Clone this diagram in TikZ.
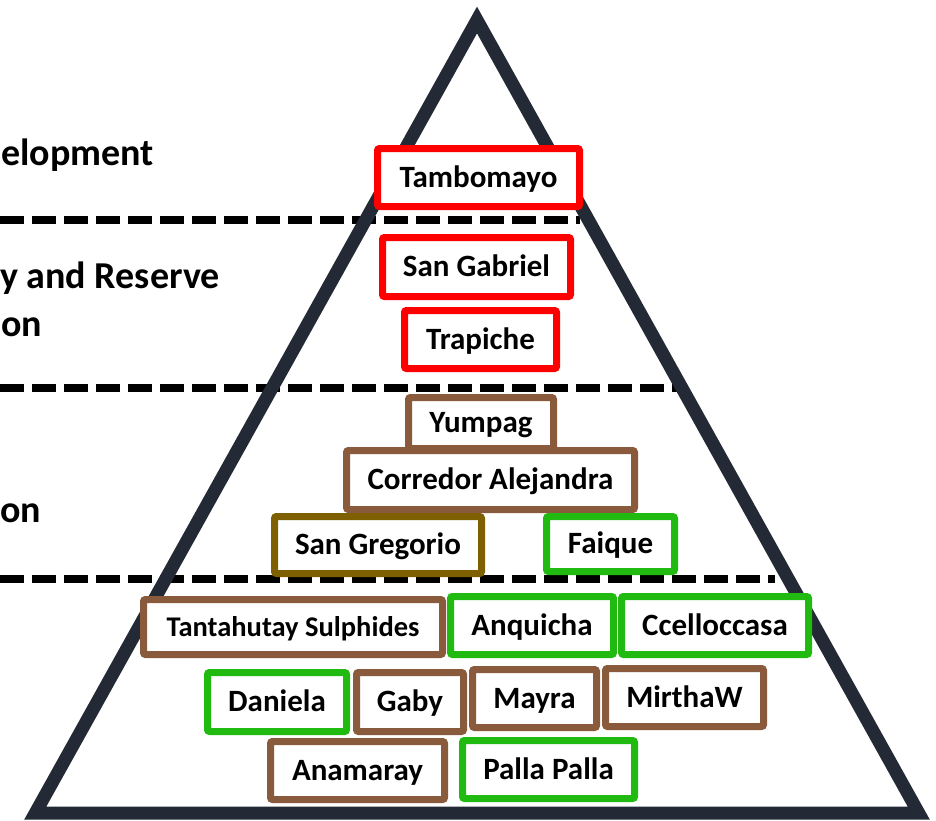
\documentclass[tikz,border=0pt]{standalone}
\usepackage{fontspec}
\setmainfont{Carlito}
\definecolor{tri}{RGB}{35,42,53}
\definecolor{bred}{RGB}{255,0,0}
\definecolor{bbrown}{RGB}{138,90,60}
\definecolor{bolive}{RGB}{127,96,0}
\definecolor{bgreen}{RGB}{32,186,16}
\newcommand\mybox[7]{\node[boxstyle, draw=#2, minimum width={#5-#3-7}, minimum height={#6-#4-7}] (#1) at ({(#3+#5)/2},{(#4+#6)/2}) {#7};}
\tikzset{
  boxstyle/.style={rectangle, line width=7pt, fill=white, rounded corners=2pt, inner sep=0pt, font=\bfseries\fontsize{31}{36}\selectfont, text=black, text height=19.6pt, text depth=0pt},
  sep/.style={line width=8pt, black, dash pattern=on 24pt off 8pt},
  lbl/.style={anchor=base west, inner sep=0pt, font=\bfseries\fontsize{38}{44}\selectfont, text=black}
}
\begin{document}
\begin{tikzpicture}[x=1pt,y=-1pt]
\useasboundingbox (0,0) rectangle (936,820);
\clip (0,0) rectangle (936,820);
% labels
\node[lbl] (l1) at (1,165) {elopment};
\node[lbl] (l2) at (0,288) {y and Reserve};
\node[lbl] (l3) at (1,336) {on};
\node[lbl] (l4) at (0,522) {on};
% separators
\coordinate (d1a) at (0,220); \coordinate (d1b) at (580,220);
\coordinate (d2a) at (0,388); \coordinate (d2b) at (678,388);
\coordinate (d3a) at (0,579); \coordinate (d3b) at (775,579);
\draw[sep] (d1a) -- (d1b);
\draw[sep] (d2a) -- (d2b);
\draw[sep] (d3a) -- (d3b);
% triangle
\coordinate (apex) at (477,20);
\coordinate (br) at (918.7,813);
\coordinate (bl) at (35.3,813);
\draw[tri, line width=13pt, line join=miter] (apex) -- (br) -- (bl) -- cycle;
% boxes
\mybox{tambo}{bred}{374}{145}{583}{210}{Tambomayo}
\mybox{sgab}{bred}{379}{234}{574}{300}{San Gabriel}
\mybox{trap}{bred}{401}{307}{560}{372}{Trapiche}
\mybox{yump}{bbrown}{405}{394}{557}{452}{Yumpag}
\mybox{corr}{bbrown}{343}{447}{638}{513}{Corredor Alejandra}
\mybox{sgre}{bolive}{271}{513}{485}{577}{San Gregorio}
\mybox{faiq}{bgreen}{543}{513}{678}{575}{Faique}
\mybox{tant}{bbrown}{140}{596}{446}{658}{{\fontsize{28.5}{34}\selectfont Tantahutay Sulphides}}
\mybox{anqu}{bgreen}{447}{593}{617}{658}{Anquicha}
\mybox{ccel}{bgreen}{618}{593}{812}{658}{Ccelloccasa}
\mybox{dani}{bgreen}{204}{669}{350}{735}{Daniela}
\mybox{gaby}{bbrown}{353}{669}{467}{735}{Gaby}
\mybox{mayr}{bbrown}{469}{666}{600}{731}{Mayra}
\mybox{mirt}{bbrown}{602}{665}{767}{730}{MirthaW}
\mybox{anam}{bbrown}{267}{738}{448}{803}{Anamaray}
\mybox{pall}{bgreen}{459}{737}{638}{802}{Palla Palla}
\end{tikzpicture}
\end{document}
